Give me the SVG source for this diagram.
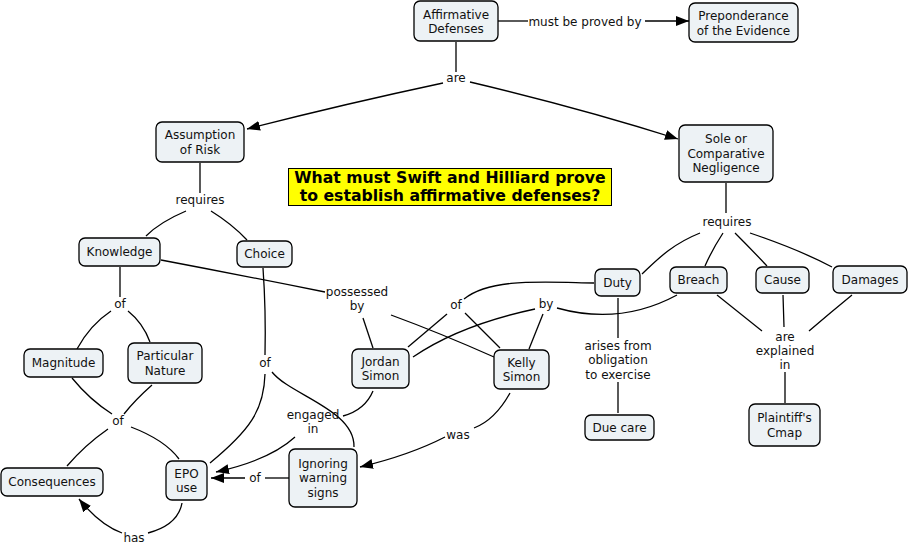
<svg xmlns="http://www.w3.org/2000/svg" width="908" height="547" viewBox="0 0 908 547">
<style>
.n rect{fill:#edf2f5;stroke:#000;stroke-width:1.3}
text{font-family:"DejaVu Sans",Verdana,sans-serif;font-size:12px;fill:#111;text-anchor:middle}
.c path{fill:none;stroke:#000;stroke-width:1.3}
.t{font-weight:bold;font-size:15.7px;fill:#000}
</style>
<defs>
<marker id="a" markerUnits="userSpaceOnUse" markerWidth="14" markerHeight="12" refX="13" refY="5" orient="auto">
<path d="M0,0 L13,5 L0,10 z" fill="#000"/>
</marker>
</defs>
<rect width="908" height="547" fill="#fff"/>
<g id="title">
<rect x="288.5" y="168.5" width="323" height="37" fill="#ffff00" stroke="#000" stroke-width="1"/>
<text class="t" x="450" y="183">What must Swift and Hilliard prove</text>
<text class="t" x="450" y="201">to establish affirmative defenses?</text>
</g>
<g class="c" id="connectors">
<path d="M498,21 L528,21"/>
<path d="M645,21 L689,21" marker-end="url(#a)"/>
<path d="M456,42 L456,72"/>
<path d="M443,83 Q340,105 247,129" marker-end="url(#a)"/>
<path d="M470,82 Q580,108 678,139" marker-end="url(#a)"/>
<path d="M200,163 L200,193"/>
<path d="M186,211 Q160,222 146,236"/>
<path d="M211,211 Q232,224 247,240"/>
<path d="M161,260 Q240,275 325,292"/>
<path d="M363,318 L373,348"/>
<path d="M391,315 Q440,333 494,357"/>
<path d="M120,267 L120,297"/>
<path d="M111,311 Q90,325 77,349"/>
<path d="M128,311 Q143,323 150,342"/>
<path d="M72,378 Q90,400 112,414"/>
<path d="M152,385 Q135,400 124,414"/>
<path d="M108,429 Q85,445 67,466"/>
<path d="M131,427 Q165,440 179,459"/>
<path d="M263,268 Q266,310 265,355"/>
<path d="M265,374 C264,410 250,430 210,463"/>
<path d="M272,372 C290,395 355,410 354,447"/>
<path d="M373,391 Q365,410 343,416"/>
<path d="M295,437 Q270,460 216,472" marker-end="url(#a)"/>
<path d="M289,478 L265,478"/>
<path d="M245,478 L211,478" marker-end="url(#a)"/>
<path d="M182,503 Q178,525 148,533"/>
<path d="M122,533 Q100,525 79,499" marker-end="url(#a)"/>
<path d="M510,393 Q495,420 474,428"/>
<path d="M445,437 Q410,455 360,467" marker-end="url(#a)"/>
<path d="M594,283 C540,282 490,278 464,299"/>
<path d="M447,314 L408,347"/>
<path d="M465,313 L500,348"/>
<path d="M677,295 C640,315 600,320 557,308"/>
<path d="M535,309 Q460,325 413,357"/>
<path d="M543,314 L529,349"/>
<path d="M618,298 L618,338"/>
<path d="M618,382 L618,413"/>
<path d="M726,183 L726,213"/>
<path d="M700,233 C670,245 655,262 642,274"/>
<path d="M723,233 Q712,250 705,266"/>
<path d="M735,233 Q752,250 767,266"/>
<path d="M750,233 Q800,250 832,267"/>
<path d="M717,295 L762,331"/>
<path d="M783,295 L784,327"/>
<path d="M852,295 Q830,313 809,331"/>
<path d="M785,372 L785,403"/>
</g>
<g id="labels">
<text x="585" y="25.5">must be proved by</text>
<text x="456" y="82">are</text>
<text x="200" y="204">requires</text>
<text x="727" y="226">requires</text>
<text x="357" y="296">possessed</text>
<text x="357" y="310">by</text>
<text x="120" y="308">of</text>
<text x="118" y="425">of</text>
<text x="265" y="367">of</text>
<text x="313" y="419">engaged</text>
<text x="313" y="433">in</text>
<text x="255" y="482">of</text>
<text x="134" y="542">has</text>
<text x="458" y="439">was</text>
<text x="456" y="309">of</text>
<text x="546" y="308">by</text>
<text x="618" y="350">arises from</text>
<text x="618" y="364">obligation</text>
<text x="618" y="379">to exercise</text>
<text x="785" y="341">are</text>
<text x="785" y="355">explained</text>
<text x="785" y="369">in</text>
</g>
<g class="n" id="affirmative-defenses"><rect x="414" y="1" width="84" height="40" rx="6"/><text x="456" y="18.5">Affirmative</text><text x="456" y="33">Defenses</text></g>
<g class="n" id="preponderance"><rect x="689" y="3" width="109" height="39" rx="6"/><text x="743.5" y="20">Preponderance</text><text x="743.5" y="34.5">of the Evidence</text></g>
<g class="n" id="assumption-of-risk"><rect x="156" y="122" width="88" height="40" rx="6"/><text x="200" y="139">Assumption</text><text x="200" y="153.5">of Risk</text></g>
<g class="n" id="sole-negligence"><rect x="679" y="125" width="94" height="57" rx="6"/><text x="726" y="143">Sole or</text><text x="726" y="157.5">Comparative</text><text x="726" y="172">Negligence</text></g>
<g class="n" id="knowledge"><rect x="79" y="238" width="81" height="28" rx="6"/><text x="119.5" y="256">Knowledge</text></g>
<g class="n" id="choice"><rect x="237" y="241" width="55" height="26" rx="6"/><text x="264.5" y="258">Choice</text></g>
<g class="n" id="magnitude"><rect x="24" y="349" width="79" height="28" rx="6"/><text x="63.5" y="367">Magnitude</text></g>
<g class="n" id="particular-nature"><rect x="128" y="343" width="74" height="40" rx="6"/><text x="165" y="360">Particular</text><text x="165" y="374.5">Nature</text></g>
<g class="n" id="consequences"><rect x="1" y="468" width="102" height="28" rx="6"/><text x="52" y="486">Consequences</text></g>
<g class="n" id="epo-use"><rect x="166" y="461" width="41" height="39" rx="6"/><text x="186.5" y="477.5">EPO</text><text x="186.5" y="492">use</text></g>
<g class="n" id="ignoring-warning-signs"><rect x="289" y="449" width="68" height="58" rx="6"/><text x="323" y="467.5">Ignoring</text><text x="323" y="482">warning</text><text x="323" y="496.5">signs</text></g>
<g class="n" id="jordan-simon"><rect x="352" y="349" width="57" height="39" rx="6"/><text x="380.5" y="365.5">Jordan</text><text x="380.5" y="380">Simon</text></g>
<g class="n" id="kelly-simon"><rect x="494" y="350" width="55" height="39" rx="6"/><text x="521.5" y="366.5">Kelly</text><text x="521.5" y="381">Simon</text></g>
<g class="n" id="duty"><rect x="595" y="269" width="45" height="27" rx="6"/><text x="617.5" y="286.5">Duty</text></g>
<g class="n" id="breach"><rect x="670" y="267" width="57" height="26" rx="6"/><text x="698.5" y="284">Breach</text></g>
<g class="n" id="cause"><rect x="756" y="267" width="53" height="26" rx="6"/><text x="782.5" y="284">Cause</text></g>
<g class="n" id="damages"><rect x="833" y="266" width="74" height="27" rx="6"/><text x="870" y="283.5">Damages</text></g>
<g class="n" id="due-care"><rect x="585" y="415" width="69" height="25" rx="6"/><text x="619.5" y="431.5">Due care</text></g>
<g class="n" id="plaintiffs-cmap"><rect x="749" y="404" width="71" height="42" rx="6"/><text x="784.5" y="422">Plaintiff's</text><text x="784.5" y="436.5">Cmap</text></g>
</svg>
